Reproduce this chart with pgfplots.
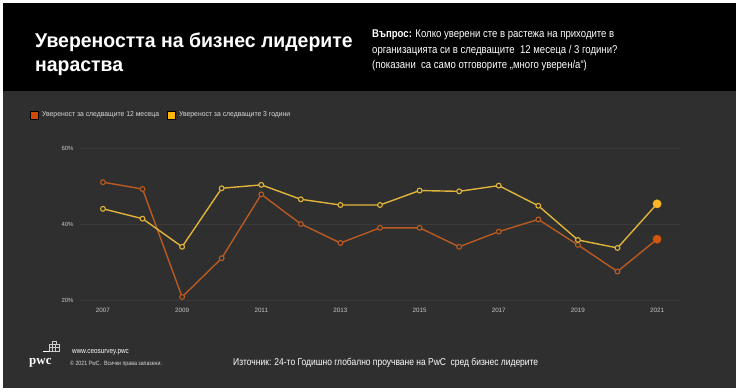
\documentclass[border=0pt]{standalone}
\usepackage{pgfplots}
\pgfplotsset{compat=1.18}
\usepackage{fontspec}
\setmainfont{Liberation Sans}
\newfontfamily\narrowfont[FakeStretch=0.85]{Liberation Sans}
\newfontfamily\semifont[FakeStretch=0.95]{Liberation Sans}
\newfontfamily\titlefont[FakeStretch=0.975]{Liberation Sans}
\newfontfamily\logofont{Liberation Serif}
\definecolor{bgdark}{HTML}{2F2F2F}
\definecolor{orangeline}{HTML}{B85A22}
\definecolor{yellowline}{HTML}{E0B43A}
\definecolor{orangefill}{HTML}{D0560C}
\definecolor{yellowfill}{HTML}{FBB723}
\definecolor{legorange}{HTML}{D04A02}
\definecolor{legyellow}{HTML}{FFB600}
\definecolor{gridc}{HTML}{3A3A3A}
\definecolor{ticktext}{HTML}{C8C8C8}
\begin{document}
\begin{tikzpicture}[x=1bp,y=1bp]
\fill[white] (0,0) rectangle (740,391);
\fill[bgdark] (3,3) rectangle (736,388);
\fill[black] (3,300) rectangle (736,388);
% title
\node[anchor=base west, inner sep=0, text=white, font=\titlefont\bfseries\fontsize{20}{24}\selectfont] at (35,344) {Увереността на бизнес лидерите};
\node[anchor=base west, inner sep=0, text=white, font=\titlefont\bfseries\fontsize{20}{24}\selectfont] at (35,320) {нараства};
% question
\node[anchor=base west, inner sep=0, text=white, font=\narrowfont\fontsize{11.3}{13}\selectfont] at (372,354) {\textbf{Въпрос:} Колко уверени сте в растежа на приходите в};
\node[anchor=base west, inner sep=0, text=white, font=\narrowfont\fontsize{11.3}{13}\selectfont] at (372,338) {организацията си в следващите \ 12 месеца / 3 години?};
\node[anchor=base west, inner sep=0, text=white, font=\narrowfont\fontsize{11.3}{13}\selectfont] at (372,323) {(показани \ са само отговорите „много уверен/а“)};
% footer
\node[anchor=base west, inner sep=0, text=white, font=\narrowfont\fontsize{10}{12}\selectfont] at (233,26) {Източник: 24-то Годишно глобално проучване на PwC \ сред бизнес лидерите};
\node[anchor=base west, inner sep=0, text=white, font=\narrowfont\fontsize{7.5}{8}\selectfont] at (72,38) {www.ceosurvey.pwc};
\node[anchor=base west, inner sep=0, text=white!85!black, font=\narrowfont\fontsize{6.2}{7}\selectfont] at (70,26) {© 2021 PwC. \ Всички права запазени.};
\node[anchor=base west, inner sep=0, text=white, font=\logofont\bfseries\fontsize{13}{14}\selectfont] at (29,27) {pwc};
\draw[white, line width=0.6bp] (43,40) -- (49,40);
\draw[white!80!black, line width=0.4bp] (49,40) rectangle (59,47) (52,47) rectangle (56,50) (49,43.5) -- (59,43.5) (52.3,40) -- (52.3,47) (55.6,40) -- (55.6,47);
\begin{axis}[
  at={(80bp,91bp)}, anchor=south west,
  scale only axis, width=600bp, height=152bp,
  xmin=2006.42, xmax=2021.58, ymin=20, ymax=60,
  axis line style={draw=none},
  xtick={2007,2009,...,2021},
  ytick={20,40,60},
  yticklabel={\pgfmathprintnumber{\tick}\%},
  ymajorgrids, grid style={gridc, line width=0.7bp},
  major tick length=0,
  /pgf/number format/assume math mode=true,
  /pgf/number format/1000 sep={},
  tick label style={font=\fontsize{6.3}{7}\selectfont, text=ticktext},
  xticklabel style={yshift=-5bp},
  yticklabel style={xshift=-3bp, font=\fontsize{6}{7}\selectfont},
  clip=false,
  legend style={at={(-0.0833,1.217)}, anchor=west, draw=none, fill=none, text=white!85!black,
    font=\semifont\fontsize{7.2}{8}\selectfont, inner sep=0pt,
    /tikz/every odd column/.append style={column sep=2bp},
    /tikz/every even column/.append style={column sep=6bp}},
  legend columns=2,
  legend image code/.code={\fill[#1] (0bp,-3.8bp) rectangle (7.6bp,3.8bp);},
]
\addlegendimage{fill=legorange}
\addlegendentry{Увереност за следващите 12 месеца}
\addlegendimage{fill=legyellow}
\addlegendentry{Увереност за следващите 3 години}
\addplot[orangeline, line width=1.4bp, mark=*, mark indices={1,...,14}, mark size=2.4bp,
  mark options={fill=bgdark, draw=orangeline, line width=1.1bp}] coordinates {
(2007,51) (2008,49.2) (2009,20.8) (2010,31) (2011,47.8) (2012,40) (2013,35) (2014,39)
(2015,39) (2016,34) (2017,38) (2018,41.2) (2019,34.5) (2020,27.5) (2021,36)};
\addplot[yellowline, line width=1.4bp, mark=*, mark indices={1,...,14}, mark size=2.4bp,
  mark options={fill=bgdark, draw=yellowline, line width=1.1bp}] coordinates {
(2007,44) (2008,41.4) (2009,34) (2010,49.4) (2011,50.3) (2012,46.5) (2013,45) (2014,45)
(2015,48.8) (2016,48.6) (2017,50.1) (2018,44.8) (2019,35.8) (2020,33.7) (2021,45.3)};
\addplot[only marks, mark=*, mark size=4.2bp, mark options={draw=orangefill, fill=orangefill, line width=0.3bp}] coordinates {(2021,36)};
\addplot[only marks, mark=*, mark size=4.2bp, mark options={draw=yellowfill, fill=yellowfill, line width=0.3bp}] coordinates {(2021,45.3)};
\end{axis}
\end{tikzpicture}
\end{document}
